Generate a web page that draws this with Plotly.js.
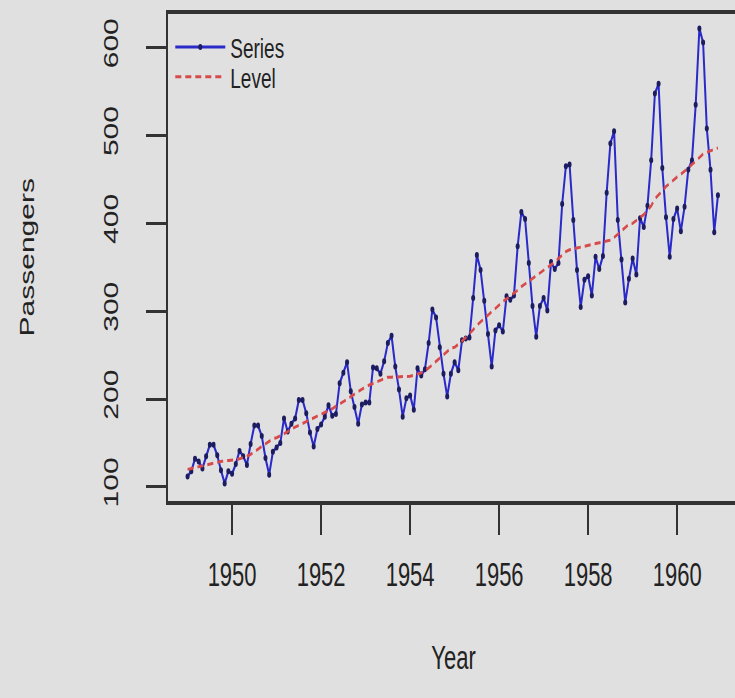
<!DOCTYPE html>
<html>
<head>
<meta charset="utf-8">
<script src="https://cdn.plot.ly/plotly-3.0.1.min.js"></script>
<style>
  html, body { margin: 0; padding: 0; overflow: hidden; background: #e0e0e0; width: 735px; height: 698px; }
  #chart { width: 745px; height: 465px; transform: scaleY(1.5); transform-origin: 0 0; }
</style>
</head>
<body>
<div id="chart"></div>
<script>
// Monthly airline passengers, Jan 1949 - Dec 1960
const startYear = 1949;
const years = [1949,1950,1951,1952,1953,1954,1955,1956,1957,1958,1959,1960];
const series = [
  112,118,132,129,121,135,148,148,136,119,104,118,
  115,126,141,135,125,149,170,170,158,133,114,140,
  145,150,178,163,172,178,199,199,184,162,146,166,
  171,180,193,181,183,218,230,242,209,191,172,194,
  196,196,236,235,229,243,264,272,237,211,180,201,
  204,188,235,227,234,264,302,293,259,229,203,229,
  242,233,267,269,270,315,364,347,312,274,237,278,
  284,277,317,313,318,374,413,405,355,306,271,306,
  315,301,356,348,355,422,465,467,404,347,305,336,
  340,318,362,348,363,435,491,505,404,359,310,337,
  360,342,406,396,420,472,548,559,463,407,362,405,
  417,391,419,461,472,535,622,606,508,461,390,432
];
// Level
const level = [
  120,121,122,123,124,125,127,128,129,129,130,130,
  130,131,132,133,135,137,140,143,146,149,152,155,
  156,158,161,163,166,168,170,172,175,177,179,181,
  182,184,187,189,192,194,197,200,203,206,209,212,
  214,216,218,220,222,223,225,225,225,225,226,226,
  226,227,228,230,232,235,239,243,247,251,255,258,
  259,262,266,270,274,279,284,288,292,296,300,304,
  308,311,314,317,321,324,328,331,334,337,340,343,
  346,349,352,356,360,364,368,370,371,372,373,374,
  374,375,376,377,378,379,381,384,388,392,396,399,
  400,403,406,410,415,420,428,432,437,442,446,450,
  453,456,459,463,467,471,476,479,481,483,485,486
];
const xTicks = [1950,1952,1954,1956,1958,1960];
const yTicks = [100,200,300,400,500,600];

const time = series.map((_, i) => startYear + i / 12);

const font = "Liberation Sans, Arial, sans-serif";

const traces = [
  {
    x: time, y: series, name: 'Series', type: 'scatter', mode: 'lines+markers',
    line: { color: '#2a2ac8', width: 2 },
    marker: { color: '#1c1c60', size: 4 },
    legend: 'legend'
  },
  {
    x: time, y: level, name: 'Level', type: 'scatter', mode: 'lines',
    line: { color: '#d84a4a', width: 2, dash: '6px,4px' },
    legend: 'legend2'
  }
];

const legendBase = {
  xanchor: 'left', yanchor: 'middle',
  bgcolor: 'rgba(0,0,0,0)', font: { size: 19, color: '#222' },
  itemwidth: 50
};

const layout = {
  width: 745, height: 465,
  margin: { l: 168, r: 6, t: 9, b: 131 },
  paper_bgcolor: '#e0e0e0', plot_bgcolor: '#e0e0e0',
  font: { family: font, color: '#222', size: 21 },
  showlegend: true,
  legend: Object.assign({}, legendBase, { x: 0.004, y: 0.931 }),
  legend2: Object.assign({}, legendBase, { x: 0.004, y: 0.870 }),
  xaxis: {
    range: [1948.56, 1961.39], showgrid: false, zeroline: false,
    showline: true, mirror: true, linecolor: '#333', linewidth: 2.5,
    tickmode: 'array', tickvals: xTicks, ticktext: xTicks.map(String),
    ticks: 'outside', ticklen: 20, tickwidth: 2, tickcolor: '#333',
    ticklabelstandoff: 8, tickfont: { size: 22 },
    title: { text: 'Year', font: { size: 22 }, standoff: 36 }
  },
  yaxis: {
    range: [84, 639], showgrid: false, zeroline: false,
    showline: true, mirror: true, linecolor: '#333', linewidth: 2.5,
    tickmode: 'array', tickvals: yTicks, ticktext: yTicks.map(String),
    ticks: 'outside', ticklen: 20, tickwidth: 2, tickcolor: '#333',
    tickangle: -90, ticklabelstandoff: 20, tickfont: { size: 20 },
    title: { text: 'Passengers', font: { size: 20 }, standoff: 60 }
  }
};

Plotly.newPlot('chart', traces, layout, { staticPlot: true, displayModeBar: false });
</script>
</body>
</html>
